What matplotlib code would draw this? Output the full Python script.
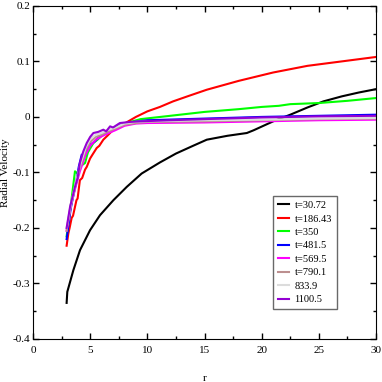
import matplotlib
matplotlib.use('Agg')
import matplotlib.pyplot as plt
from matplotlib.ticker import MultipleLocator

plt.rcParams['font.family'] = ['Liberation Serif', 'DejaVu Serif']

# t=30.72
r_a = [2.94, 3.0, 3.53, 4.11, 4.99, 5.86, 7.03, 8.2, 9.5, 11.1, 12.5, 14.0, 15.2, 17.0, 18.7, 19.3, 21.0, 22.5, 24.0, 25.4, 27.0, 28.5, 30.0]
v_a = [-0.335, -0.315, -0.276, -0.240, -0.204, -0.177, -0.150, -0.126, -0.102, -0.082, -0.066, -0.052, -0.041, -0.034, -0.029, -0.024, -0.008, 0.004, 0.017, 0.028, 0.037, 0.044, 0.050]

# t=186.43
r_b = [2.94, 3.09, 3.2, 3.38, 3.5, 3.8, 3.9, 4.1, 4.3, 4.55, 4.7, 4.99, 5.2, 5.57, 5.8, 6.15, 6.5, 6.88, 7.5, 8.0, 9.0, 10.0, 11.1, 12.25, 13.5, 15.2, 18.0, 21.0, 24.0, 27.0, 30.0]
v_b = [-0.232, -0.210, -0.200, -0.182, -0.178, -0.150, -0.147, -0.114, -0.110, -0.095, -0.090, -0.075, -0.068, -0.056, -0.052, -0.041, -0.034, -0.026, -0.018, -0.012, 0.000, 0.010, 0.018, 0.028, 0.037, 0.049, 0.065, 0.080, 0.092, 0.100, 0.108]

# t=350
r_c = [2.94, 3.3, 3.67, 3.9, 4.2, 4.55, 4.8, 5.28, 5.7, 6.2, 7.0, 8.0, 9.4, 12.0, 15.0, 18.0, 20.0, 21.5, 22.5, 25.0, 27.5, 30.0]
v_c = [-0.215, -0.160, -0.098, -0.102, -0.088, -0.083, -0.064, -0.047, -0.040, -0.030, -0.021, -0.012, -0.004, 0.002, 0.009, 0.014, 0.018, 0.020, 0.023, 0.025, 0.029, 0.034]

# t=481.5
r_d = [2.94, 3.3, 3.8, 4.0, 4.26, 4.5, 4.99, 5.3, 5.8, 6.5, 7.5, 8.5, 10.0, 15.0, 20.0, 25.0, 30.0]
v_d = [-0.220, -0.165, -0.114, -0.090, -0.068, -0.072, -0.050, -0.046, -0.036, -0.026, -0.016, -0.010, -0.006, -0.003, 0.000, 0.002, 0.004]

# t=569.5
r_e = [2.94, 3.3, 3.7, 4.1, 4.6, 5.0, 5.5, 6.0, 6.5, 7.2, 8.0, 9.0, 10.0, 15.0, 20.0, 25.0, 30.0]
v_e = [-0.205, -0.160, -0.128, -0.098, -0.068, -0.052, -0.041, -0.035, -0.030, -0.024, -0.016, -0.012, -0.011, -0.010, -0.008, -0.006, -0.005]

# t=790.1
r_f = [2.94, 3.3, 3.7, 4.1, 4.6, 5.0, 5.5, 6.0, 6.5, 7.2, 8.0, 9.0, 10.0, 15.0, 20.0, 25.0, 30.0]
v_f = [-0.205, -0.160, -0.125, -0.092, -0.060, -0.045, -0.036, -0.032, -0.027, -0.021, -0.014, -0.011, -0.009, -0.008, -0.006, -0.004, -0.003]

# 833.9
r_g = [2.94, 3.3, 3.7, 4.1, 4.6, 5.0, 5.5, 6.0, 6.5, 7.2, 8.0, 9.0, 10.0, 15.0, 20.0, 25.0, 30.0]
v_g = [-0.200, -0.158, -0.122, -0.088, -0.055, -0.040, -0.032, -0.029, -0.024, -0.019, -0.012, -0.009, -0.008, -0.006, -0.005, -0.003, -0.002]

# 1100.5
r_h = [2.94, 3.24, 3.67, 3.9, 4.1, 4.4, 4.7, 5.0, 5.28, 5.7, 6.15, 6.4, 6.74, 7.0, 7.6, 8.5, 9.36, 12.0, 15.0, 20.0, 25.0, 30.0]
v_h = [-0.200, -0.162, -0.126, -0.110, -0.083, -0.062, -0.047, -0.036, -0.029, -0.027, -0.023, -0.026, -0.017, -0.019, -0.011, -0.009, -0.008, -0.006, -0.004, -0.001, 0.001, 0.002]

series = [
    (r_a, v_a, 'black', 't=30.72'),
    (r_b, v_b, '#ff0000', 't=186.43'),
    (r_c, v_c, '#00ff00', 't=350'),
    (r_d, v_d, '#0000ff', 't=481.5'),
    (r_e, v_e, '#ff00ff', 't=569.5'),
    (r_f, v_f, '#bc8f8f', 't=790.1'),
    (r_g, v_g, '#dcdcdc', '833.9'),
    (r_h, v_h, '#9400d3', '1100.5'),
]

fig = plt.figure(figsize=(3.82, 3.82), dpi=100)
ax = fig.add_axes([0.0864, 0.1126, 0.898, 0.872])

for r, v, c, lab in series:
    ax.plot(r, v, color=c, lw=1.5, label=lab)

ax.set_xlim(0, 30)
ax.set_ylim(-0.4, 0.2)
ax.xaxis.set_major_locator(MultipleLocator(5))
ax.xaxis.set_minor_locator(MultipleLocator(2.5))
ax.yaxis.set_minor_locator(MultipleLocator(0.05))
ax.set_yticks([-0.4, -0.3, -0.2, -0.1, 0, 0.1, 0.2])
ax.set_yticklabels(['-0.4', '-0.3', '-0.2', '-0.1', '0', '0.1', '0.2'])
ax.tick_params(which='both', direction='in', top=True, right=True, labelsize=8, width=1)
ax.tick_params(which='major', length=4.5)
ax.tick_params(which='minor', length=2.5)
ax.tick_params(axis='x', pad=5)
ax.tick_params(axis='y', pad=2)

ax.set_xlabel('r', fontsize=8, labelpad=14)
ax.set_ylabel('Radial Velocity', fontsize=8)
ax.yaxis.set_label_coords(-0.066, 0.5)

leg = ax.legend(loc='upper left', bbox_to_anchor=(0.70, 0.429), fontsize=7.5,
                frameon=True, fancybox=False, borderaxespad=0, handlelength=1.1,
                handletextpad=0.5, labelspacing=0.4, borderpad=0.45)
leg.get_frame().set_edgecolor('#444444')
leg.get_frame().set_linewidth(1)

plt.savefig('out.png', dpi=100)
